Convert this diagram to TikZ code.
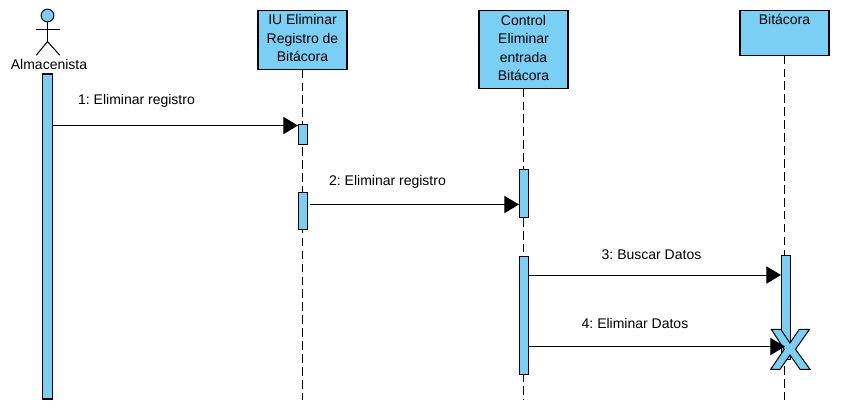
\documentclass[tikz,border=0pt]{standalone}
\usepackage{fontspec}
\setmainfont{Liberation Sans}
\usetikzlibrary{arrows.meta}
\definecolor{umlblue}{HTML}{7ACFF5}
\tikzset{
  x=0.75pt,y=-0.75pt,
  every node/.style={font=\fontsize{10.5pt}{13.9pt}\selectfont\frenchspacing},
  classbox/.style={draw=black,fill=umlblue,line width=0.8pt,minimum width=66.75pt,align=center,inner sep=0pt,anchor=north},
  lifeline/.style={line width=0.75pt,dash pattern=on 6.5pt off 3.2pt},
  actbar/.style={draw=black,fill=umlblue,line width=0.8pt,minimum width=6.5pt,inner sep=0pt},
  msg/.style={line width=0.75pt,-{Triangle[length=11pt,width=13pt]}},
  msglabel/.style={inner sep=0pt},
  stick/.style={line width=0.75pt,line cap=round}
}
\begin{document}
\begin{tikzpicture}
\useasboundingbox (0,0) rectangle (844,418);
% lifeline heads
\node[classbox,minimum height=44.25pt,text depth=2.2pt] (b1) at (302.5,9.5) {IU Eliminar\\Registro de\\Bitácora};
\node[classbox,minimum height=58.5pt,text depth=1.5pt] (b2) at (523.5,9.5) {Control\\Eliminar\\entrada\\Bitácora};
\node[classbox,minimum height=33.75pt,text depth=20pt,text height=8.5pt] (b3) at (784.5,9.5) {Bitácora};
% lifeline ends
\coordinate (e1) at (302.5,400);
\coordinate (e2) at (523.5,400);
\coordinate (e3) at (784.5,400);
\draw[lifeline] (b1.south) -- (e1);
\draw[lifeline] (b2.south) -- (e2);
\draw[lifeline] (b3.south) -- (e3);
% actor
\node[circle,draw=black,fill=umlblue,line width=0.75pt,minimum size=9.6pt,inner sep=0pt] (head) at (47.5,15.5) {};
\coordinate (hip) at (47.5,41.5);
\coordinate (armL) at (36.5,29);
\coordinate (armR) at (59.5,29);
\coordinate (legL) at (36.5,55);
\coordinate (legR) at (59.5,55);
\draw[stick] (head.south) -- (hip);
\draw[stick] (armL) -- (armR);
\draw[stick] (legL) -- (hip) -- (legR);
\node[inner sep=0pt] (actor) at (49,64.5) {Almacenista};
% activation bars
\node[actbar,minimum height=243.75pt,minimum width=7.5pt] (a0) at (47.8,236.5) {};
\node[actbar,minimum height=15pt] (a1) at (302.8,134.5) {};
\node[actbar,minimum height=27.75pt] (a2) at (302.8,211) {};
\node[actbar,minimum height=36pt] (a3) at (523.8,193.5) {};
\node[actbar,minimum height=88.5pt] (a4) at (523.8,315.5) {};
\node[actbar,minimum height=78pt] (a5) at (785.8,307.5) {};
% destroy mark
\draw[draw=black,fill=umlblue,line width=0.75pt,line join=miter]
  (771.3,329.3) -- (780.7,329.3) -- (790,343) -- (799.3,329.3) -- (809.5,329.3)
  -- (795.5,349.3) -- (810,369.3) -- (800,369.3) -- (790,355) -- (780,369.3)
  -- (770.7,369.3) -- (784.3,349.3) -- cycle;
\coordinate (x1) at (785,346.5);
% messages
\coordinate (y1) at (0,125.5);
\coordinate (y2) at (0,204.5);
\coordinate (y3) at (0,275);
\coordinate (y4) at (0,346.5);
\draw[msg] (a0.east |- y1) -- (a1.west |- y1);
\draw[msg] ([xshift=1.5pt]a2.east |- y2) -- (a3.west |- y2);
\draw[msg] (a4.east |- y3) -- (a5.west |- y3);
\draw[msg] (a4.east |- y4) -- (x1);
\node[msglabel] (l1) at (136.5,100.5) {1: Eliminar registro};
\node[msglabel] (l2) at (387.5,181.5) {2: Eliminar registro};
\node[msglabel] (l3) at (651.5,254.5) {3: Buscar Datos};
\node[msglabel] (l4) at (635,323.5) {4: Eliminar Datos};
\end{tikzpicture}
\end{document}
